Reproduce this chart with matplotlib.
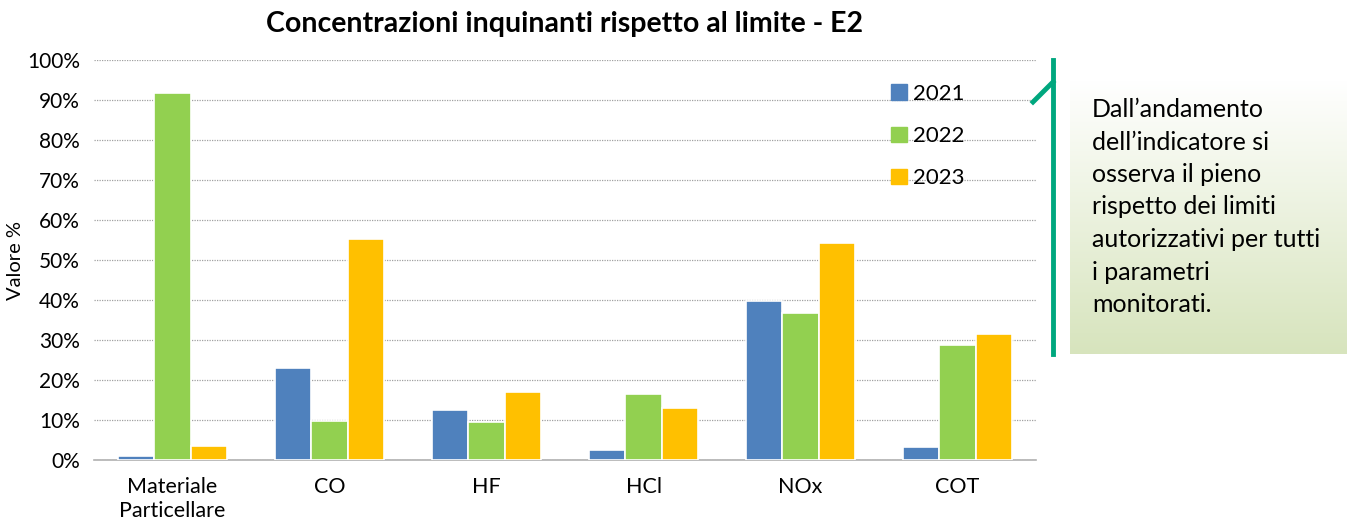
import matplotlib.pyplot as plt
import numpy as np
from matplotlib.lines import Line2D

plt.rcParams["font.family"] = ["Lato", "DejaVu Sans"]

categories = ["Materiale\nParticellare", "CO", "HF", "HCl", "NOx", "COT"]
years = ["2021", "2022", "2023"]
v2021 = [1.0, 23.0, 12.5, 2.5, 39.75, 3.25]
v2022 = [91.7, 9.75, 9.5, 16.5, 36.75, 28.75]
v2023 = [3.5, 55.25, 17.0, 13.0, 54.25, 31.5]
colors = ["#4f81bd", "#92d050", "#ffc000"]
note = ("Dall\u2019andamento\ndell\u2019indicatore si\nosserva il pieno\n"
        "rispetto dei limiti\nautorizzativi per tutti\ni parametri\nmonitorati.")

W, H = 1349, 527
fig = plt.figure(figsize=(W / 100, H / 100), dpi=100)
ax = fig.add_axes([94 / W, 1 - 460 / H, (1036 - 94) / W, 400 / H])

x = np.arange(len(categories))
bw = 0.23
for i, (vals, c, y) in enumerate(zip([v2021, v2022, v2023], colors, years)):
    ax.bar(x + (i - 1) * bw, vals, bw, color=c, edgecolor="white", linewidth=1.2, label=y, zorder=3)

ax.set_xlim(-0.5, len(categories) - 0.5)
ax.set_ylim(0, 100)
ax.set_yticks(range(0, 101, 10))
ax.set_yticklabels([f"{t}%" for t in range(0, 101, 10)], fontsize=15)
ax.set_xticks(x)
ax.set_xticklabels(categories, fontsize=15.5, linespacing=1.3)
ax.tick_params(axis="y", length=0, pad=10)
ax.tick_params(axis="x", length=0, pad=12)
ax.grid(axis="y", color="#a0a0a0", linestyle=(0, (1, 1)), linewidth=0.9, zorder=0)
for s in ["top", "right", "left"]:
    ax.spines[s].set_visible(False)
ax.spines["bottom"].set_color("#b0b0b0")
ax.spines["bottom"].set_linewidth(1.2)
ax.set_ylabel("Valore %", fontsize=14.5, labelpad=2)
ax.set_title("Concentrazioni inquinanti rispetto al limite - E2", fontsize=20.5,
             fontweight="bold", pad=20)

handles = [plt.Rectangle((0, 0), 1, 1, color=c) for c in colors]
leg = ax.legend(handles, years, loc="upper left", bbox_to_anchor=(0.825, 0.99), frameon=False,
                fontsize=16, handlelength=0.7, handleheight=0.7, handletextpad=0.3,
                labelspacing=1.0)

# note box with vertical gradient
bax = fig.add_axes([1070 / W, 1 - 354 / H, 277 / W, 274 / H])
grad = np.linspace(0, 1, 256)[:, None]
top = np.array([1.0, 1.0, 1.0])
bot = np.array([0xd7, 0xe4, 0xbd]) / 255
img = top + (bot - top) * grad[:, :, None]
bax.imshow(img, aspect="auto", extent=[0, 1, 0, 1], origin="upper")
bax.set_axis_off()
fig.text(1092 / W, 1 - 98 / H, note, fontsize=18, va="top", ha="left", linespacing=1.5)

fig.add_artist(Line2D([1053 / W, 1053 / W], [1 - 60 / H, 1 - 354 / H], color="#00a77e", lw=3.5))
fig.add_artist(Line2D([1033 / W, 1053 / W], [1 - 102 / H, 1 - 82 / H], color="#00a77e", lw=3.5))

fig.savefig("out.png", dpi=100)
